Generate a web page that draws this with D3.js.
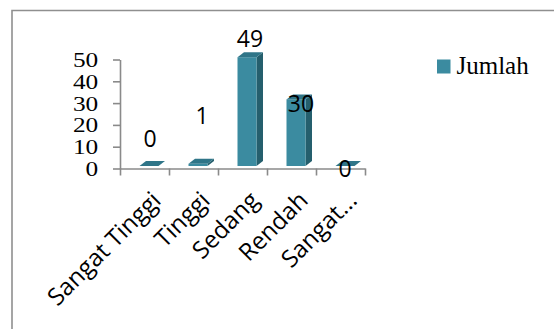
<!DOCTYPE html>
<html>
<head>
<meta charset="utf-8">
<script src="https://cdn.jsdelivr.net/npm/d3@7/dist/d3.min.js"></script>
<style>
  html, body { margin: 0; padding: 0; background: #fff; }
  svg { display: block; }
</style>
</head>
<body>
<svg id="chart" width="554" height="329"></svg>
<script>
// Category names and counts
const categories = ["Sangat Tinggi", "Tinggi", "Sedang", "Rendah", "Sangat Rendah"];
const categoryLabels = ["Sangat Tinggi", "Tinggi", "Sedang", "Rendah", "Sangat..."];
const jumlah = [0, 1, 49, 30, 0];
const seriesName = "Jumlah";
const yTicks = [0, 10, 20, 30, 40, 50];

// Where each value label sits relative to the top of its bar (dx, dy)
const labelNudge = [[1, -28], [4, -49], [3, -19], [5, 4], [0, 2]];

const colors = { front: "#3b8ba0", side: "#255f6d", top: "#2f7588", axis: "#8a8a8a" };

const svg = d3.select("#chart");

// Outer frame (left and top edges)
svg.append("path")
  .attr("d", "M12,329V10.5H554")
  .attr("fill", "none")
  .attr("stroke", "#8f8f8f")
  .attr("stroke-width", 1.6);

// Scales
const yAxisScale = d3.scaleLinear().domain([0, 50]).range([168.5, 59.5]);
const barScale = d3.scaleLinear().domain([0, 50]).range([166, 55]);
const xBand = d3.scaleBand().domain(categories).range([120, 365]).paddingInner(0).paddingOuter(0);
const xEdges = d3.scaleLinear().domain([0, categories.length]).range([120, 365]);

const frontW = 19, frontOff = 19.5, depthX = 6.5, depthY = 5;

// Y axis
const gy = svg.append("g").attr("transform", "translate(120,0)")
  .call(d3.axisLeft(yAxisScale).tickValues(yTicks).tickSize(7).tickSizeOuter(0).tickPadding(12));
gy.select(".domain").attr("stroke", colors.axis).attr("stroke-width", 1.6);
gy.selectAll(".tick line").attr("stroke", colors.axis).attr("stroke-width", 1.6);
gy.selectAll(".tick text")
  .attr("font-family", "'Liberation Serif', 'Times New Roman', serif")
  .attr("font-size", 22)
  .attr("fill", "#000")
  .attr("transform", "scale(1.15,1)");

// X axis with ticks on category boundaries
const gx = svg.append("g").attr("transform", "translate(0,168.5)")
  .call(d3.axisBottom(xEdges).tickValues(d3.range(categories.length + 1)).tickSize(7).tickSizeOuter(0).tickFormat(""));
gx.select(".domain").attr("stroke", colors.axis).attr("stroke-width", 1.6);
gx.selectAll(".tick line").attr("stroke", colors.axis).attr("stroke-width", 1.6);

// 3D columns
const bars = svg.append("g").selectAll("g").data(categories).join("g");
bars.each(function (c, i) {
  const g = d3.select(this);
  const x0 = xBand(c) + frontOff, x1 = x0 + frontW;
  const yTop = barScale(jumlah[i]), yBot = barScale(0);
  // side face
  g.append("path")
    .attr("d", `M${x1},${yBot}L${x1 + depthX},${yBot - depthY}L${x1 + depthX},${yTop - depthY}L${x1},${yTop}Z`)
    .attr("fill", colors.side);
  // front face
  g.append("rect")
    .attr("x", x0).attr("y", yTop)
    .attr("width", frontW).attr("height", Math.max(0, yBot - yTop))
    .attr("fill", colors.front);
  // top face
  g.append("path")
    .attr("d", `M${x0},${yTop}L${x0 + depthX},${yTop - depthY}L${x1 + depthX},${yTop - depthY}L${x1},${yTop}Z`)
    .attr("fill", colors.top);
});

// Value labels
svg.append("g").selectAll("text").data(categories).join("text")
  .attr("x", (c, i) => xBand(c) + frontOff + frontW / 2 + labelNudge[i][0])
  .attr("y", (c, i) => barScale(jumlah[i]) + labelNudge[i][1])
  .attr("text-anchor", "middle")
  .attr("dominant-baseline", "central")
  .attr("font-family", "'Open Sans', 'DejaVu Sans', sans-serif")
  .attr("font-size", 23)
  .attr("fill", "#000")
  .text((c, i) => jumlah[i]);

// Rotated category labels
svg.append("g").selectAll("text").data(categories).join("text")
  .attr("transform", c => `translate(${xBand(c) + xBand.bandwidth() / 2 + 5},189) rotate(-45)`)
  .attr("dy", "0.76em")
  .attr("text-anchor", "end")
  .attr("font-family", "'Open Sans', 'DejaVu Sans', sans-serif")
  .attr("font-size", 24)
  .attr("fill", "#000")
  .text((c, i) => categoryLabels[i]);

// Legend
const legend = svg.append("g").attr("transform", "translate(437,59.5)");
legend.append("rect").attr("width", 13.5).attr("height", 14).attr("fill", colors.front);
legend.append("text")
  .attr("x", 19.5).attr("y", 14.5)
  .attr("font-family", "'Liberation Serif', 'Times New Roman', serif")
  .attr("font-size", 25)
  .attr("fill", "#000")
  .text(seriesName);
</script>
</body>
</html>
